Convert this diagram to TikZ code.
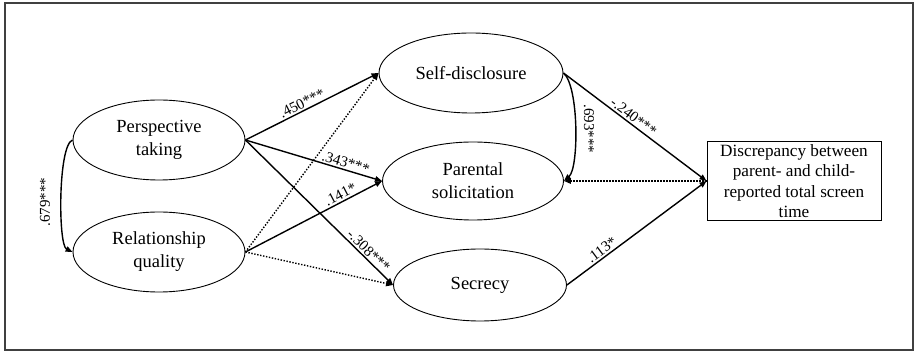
\documentclass[tikz,border=0pt]{standalone}
\usepackage{fontspec}
\setmainfont{Liberation Serif}
\usetikzlibrary{shapes.geometric,arrows.meta}
\tikzset{
  latent/.style={draw, ellipse, line width=0.9pt, inner sep=0pt, align=center,
    font=\fontsize{18.5}{23}\selectfont},
  obsbox/.style={draw, rectangle, line width=0.9pt, inner sep=0pt, align=center,
    minimum width=174pt, minimum height=79pt, font=\fontsize{17.2}{20.5}\selectfont},
  path/.style={line width=1.4pt, -{Triangle[length=7pt,width=5.5pt]}},
  dotpath/.style={line width=1.4pt, dash pattern=on 1.4pt off 1.6pt, -{Triangle[length=7pt,width=5.5pt]}},
  coef/.style={font=\fontsize{15}{17}\selectfont, inner sep=1.5pt}
}
\begin{document}
\begin{tikzpicture}[x=1pt,y=-1pt]
\useasboundingbox (0,0) rectangle (916,352);
\draw[line width=1.3pt, draw=black!75] (5,3) rectangle (913,350);

\node[latent, minimum width=172pt, minimum height=80pt] (pt) at (159,140) {Perspective\\taking};
\node[latent, minimum width=172pt, minimum height=80pt] (rq) at (159,252) {Relationship\\quality};
\node[latent, minimum width=184pt, minimum height=80pt] (sd) at (471,73) {Self-disclosure};
\node[latent, minimum width=181pt, minimum height=78pt] (ps) at (473,181) {Parental\\solicitation};
\node[latent, minimum width=173pt, minimum height=72pt] (sc) at (480,285) {Secrecy};
\node[obsbox] (dv) at (794,181) {Discrepancy between\\parent- and child-\\reported total screen\\time};

% correlations
\draw[path] (pt.west) .. controls (58,145) and (58,245) .. (rq.west);
\node[coef, rotate=90] (c679) at (45,202) {.679***};
\draw[path] (sd.east) .. controls (579,86) and (579,168) .. (ps.east);
\node[coef, rotate=-90] (c693) at (589,129) {.693***};

% paths
\draw[path] (pt.east) -- node[coef, sloped, above, pos=0.45] {.450***} (sd.west);
\draw[path] (pt.east) -- node[coef, sloped, above, pos=0.72] {.343***} (ps.west);
\draw[path] (pt.east) -- node[coef, sloped, above, pos=0.8] {-.308***} (sc.west);
\draw[dotpath] (rq.east) -- (sd.west);
\draw[path] (rq.east) -- node[coef, sloped, above, pos=0.72] {.141*} (ps.west);
\draw[dotpath] (rq.east) -- (sc.west);

\draw[path] (sd.east) -- node[coef, sloped, above, pos=0.46] {-.240***} (dv.west);
\draw[dotpath] (dv.west) -- (ps.east);
\draw[path] (sc.east) -- node[coef, sloped, above, pos=0.28] {.113*} (dv.west);
\end{tikzpicture}
\end{document}
